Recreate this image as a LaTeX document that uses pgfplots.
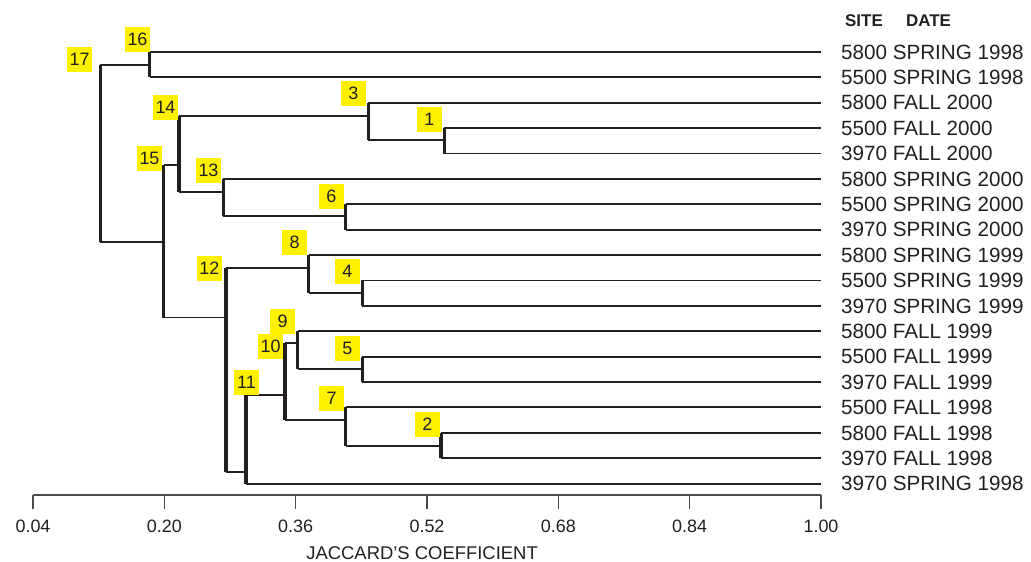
\documentclass[border=0pt]{standalone}
\usepackage{fontspec}
\setmainfont{Liberation Sans}
\usepackage{pgfplots}
\pgfplotsset{compat=1.18}
\definecolor{ink}{RGB}{35,31,32}
\definecolor{axgray}{RGB}{75,75,75}
\definecolor{boxy}{RGB}{255,240,0}
\tikzset{
  hl/.style={draw=ink, line width=1.9bp},
  vl/.style={draw=ink, line width=3.3bp},
  lab/.style={fill=boxy, minimum width=25bp, minimum height=25bp, inner sep=0pt, text=ink, font=\fontsize{18}{18}\selectfont},
  leaf/.style={anchor=base west, inner sep=0pt, yshift=-7.2bp, text=ink, font=\fontsize{20.7}{20.7}\selectfont},
  hdr/.style={anchor=base west, inner sep=0pt, yshift=0.5bp, text=ink, font=\fontsize{17}{17}\selectfont\bfseries},
}
\begin{document}
\begin{tikzpicture}
\useasboundingbox (0,0) rectangle (1031bp,562bp);
\begin{axis}[
  at={(33bp,67bp)}, anchor=south west,
  scale only axis, width=788bp, height=468.4bp,
  xmin=0.04, xmax=1.0, ymin=-18.45, ymax=0,
  axis x line=bottom, axis y line=none,
  axis line style={-, line width=1.4bp, draw=axgray},
  xtick={0.04,0.20,0.36,0.52,0.68,0.84,1.00},
  ytick=\empty,
  tick align=outside, major tick length=14bp,
  tick style={line width=1.4bp, draw=axgray},
  /pgf/number format/assume math mode=true,
  xticklabel style={font=\fontsize{18}{18}\selectfont, text=ink, yshift=-7bp,
    /pgf/number format/fixed, /pgf/number format/fixed zerofill, /pgf/number format/precision=2},
  clip=false,
]
% leaves
\addplot[hl, no marks] coordinates {(0.182,-1) (1,-1)};
\addplot[hl, no marks] coordinates {(0.182,-2) (1,-2)};
\addplot[hl, no marks] coordinates {(0.4485,-3) (1,-3)};
\addplot[hl, no marks] coordinates {(0.541,-4) (1,-4)};
\addplot[hl, no marks] coordinates {(0.541,-5) (1,-5)};
\addplot[hl, no marks] coordinates {(0.272,-6) (1,-6)};
\addplot[hl, no marks] coordinates {(0.421,-7) (1,-7)};
\addplot[hl, no marks] coordinates {(0.421,-8) (1,-8)};
\addplot[hl, no marks] coordinates {(0.376,-9) (1,-9)};
\addplot[hl, no marks] coordinates {(0.441,-10) (1,-10)};
\addplot[hl, no marks] coordinates {(0.441,-11) (1,-11)};
\addplot[hl, no marks] coordinates {(0.3625,-12) (1,-12)};
\addplot[hl, no marks] coordinates {(0.441,-13) (1,-13)};
\addplot[hl, no marks] coordinates {(0.441,-14) (1,-14)};
\addplot[hl, no marks] coordinates {(0.421,-15) (1,-15)};
\addplot[hl, no marks] coordinates {(0.537,-16) (1,-16)};
\addplot[hl, no marks] coordinates {(0.537,-17) (1,-17)};
\addplot[hl, no marks] coordinates {(0.2995,-18) (1,-18)};
% links
\addplot[hl, no marks] coordinates {(0.122,-1.5) (0.182,-1.5)};
\addplot[hl, no marks] coordinates {(0.122,-8.47) (0.199,-8.47)};
\addplot[hl, no marks] coordinates {(0.199,-5.46) (0.218,-5.46)};
\addplot[hl, no marks] coordinates {(0.218,-3.51) (0.4485,-3.51)};
\addplot[hl, no marks] coordinates {(0.4485,-4.47) (0.541,-4.47)};
\addplot[hl, no marks] coordinates {(0.218,-6.51) (0.272,-6.51)};
\addplot[hl, no marks] coordinates {(0.272,-7.45) (0.421,-7.45)};
\addplot[hl, no marks] coordinates {(0.199,-11.46) (0.275,-11.46)};
\addplot[hl, no marks] coordinates {(0.275,-9.5) (0.376,-9.5)};
\addplot[hl, no marks] coordinates {(0.376,-10.5) (0.441,-10.5)};
\addplot[hl, no marks] coordinates {(0.275,-17.53) (0.2995,-17.53)};
\addplot[hl, no marks] coordinates {(0.2995,-14.51) (0.347,-14.51)};
\addplot[hl, no marks] coordinates {(0.347,-12.47) (0.3625,-12.47)};
\addplot[hl, no marks] coordinates {(0.3625,-13.5) (0.441,-13.5)};
\addplot[hl, no marks] coordinates {(0.347,-15.49) (0.421,-15.49)};
\addplot[hl, no marks] coordinates {(0.421,-16.52) (0.537,-16.52)};
% verticals
\addplot[vl, no marks] coordinates {(0.541,-4) (0.541,-5)};
\addplot[vl, no marks] coordinates {(0.4485,-3) (0.4485,-4.47)};
\addplot[vl, no marks] coordinates {(0.421,-7) (0.421,-8)};
\addplot[vl, no marks] coordinates {(0.272,-6) (0.272,-7.45)};
\addplot[vl, no marks] coordinates {(0.218,-3.51) (0.218,-6.51)};
\addplot[vl, no marks] coordinates {(0.182,-1) (0.182,-2)};
\addplot[vl, no marks] coordinates {(0.122,-1.5) (0.122,-8.47)};
\addplot[vl, no marks] coordinates {(0.199,-5.46) (0.199,-11.46)};
\addplot[vl, no marks] coordinates {(0.441,-10) (0.441,-11)};
\addplot[vl, no marks] coordinates {(0.376,-9) (0.376,-10.5)};
\addplot[vl, no marks] coordinates {(0.275,-9.5) (0.275,-17.53)};
\addplot[vl, no marks] coordinates {(0.441,-13) (0.441,-14)};
\addplot[vl, no marks] coordinates {(0.3625,-12) (0.3625,-13.5)};
\addplot[vl, no marks] coordinates {(0.537,-16) (0.537,-17)};
\addplot[vl, no marks] coordinates {(0.421,-15) (0.421,-16.52)};
\addplot[vl, no marks] coordinates {(0.347,-12.47) (0.347,-15.49)};
\addplot[vl, no marks] coordinates {(0.2995,-14.51) (0.2995,-18)};
% node labels
\node[lab] at (axis cs:0.1673,-0.496) {16};
\node[lab] at (axis cs:0.0967,-1.29) {17};
\node[lab] at (axis cs:0.2014,-3.19) {14};
\node[lab] at (axis cs:0.1819,-5.19) {15};
\node[lab] at (axis cs:0.2538,-5.67) {13};
\node[lab] at (axis cs:0.4302,-2.63) {3};
\node[lab] at (axis cs:0.5228,-3.66) {1};
\node[lab] at (axis cs:0.4034,-6.68) {6};
\node[lab] at (axis cs:0.3588,-8.50) {8};
\node[lab] at (axis cs:0.2548,-9.53) {12};
\node[lab] at (axis cs:0.4229,-9.65) {4};
\node[lab] at (axis cs:0.3440,-11.61) {9};
\node[lab] at (axis cs:0.3296,-12.59) {10};
\node[lab] at (axis cs:0.4229,-12.68) {5};
\node[lab] at (axis cs:0.3000,-14.01) {11};
\node[lab] at (axis cs:0.4039,-14.64) {7};
\node[lab] at (axis cs:0.5204,-15.66) {2};
% leaf labels
\node[leaf] at (axis cs:1.0244,-1) {5800 SPRING 1998};
\node[leaf] at (axis cs:1.0244,-2) {5500 SPRING 1998};
\node[leaf] at (axis cs:1.0244,-3) {5800 FALL 2000};
\node[leaf] at (axis cs:1.0244,-4) {5500 FALL 2000};
\node[leaf] at (axis cs:1.0244,-5) {3970 FALL 2000};
\node[leaf] at (axis cs:1.0244,-6) {5800 SPRING 2000};
\node[leaf] at (axis cs:1.0244,-7) {5500 SPRING 2000};
\node[leaf] at (axis cs:1.0244,-8) {3970 SPRING 2000};
\node[leaf] at (axis cs:1.0244,-9) {5800 SPRING 1999};
\node[leaf] at (axis cs:1.0244,-10) {5500 SPRING 1999};
\node[leaf] at (axis cs:1.0244,-11) {3970 SPRING 1999};
\node[leaf] at (axis cs:1.0244,-12) {5800 FALL 1999};
\node[leaf] at (axis cs:1.0244,-13) {5500 FALL 1999};
\node[leaf] at (axis cs:1.0244,-14) {3970 FALL 1999};
\node[leaf] at (axis cs:1.0244,-15) {5500 FALL 1998};
\node[leaf] at (axis cs:1.0244,-16) {5800 FALL 1998};
\node[leaf] at (axis cs:1.0244,-17) {3970 FALL 1998};
\node[leaf] at (axis cs:1.0244,-18) {3970 SPRING 1998};
% header
\node[hdr] at (axis cs:1.0292,0) {SITE};
\node[hdr] at (axis cs:1.1035,0) {DATE};
% x label
\node[anchor=base, inner sep=0pt, text=ink, font=\fontsize{18.5}{18.5}\selectfont, yshift=-64bp] at (axis cs:0.514,-18.45) {JACCARD'S COEFFICIENT};
\end{axis}
\end{tikzpicture}
\end{document}
